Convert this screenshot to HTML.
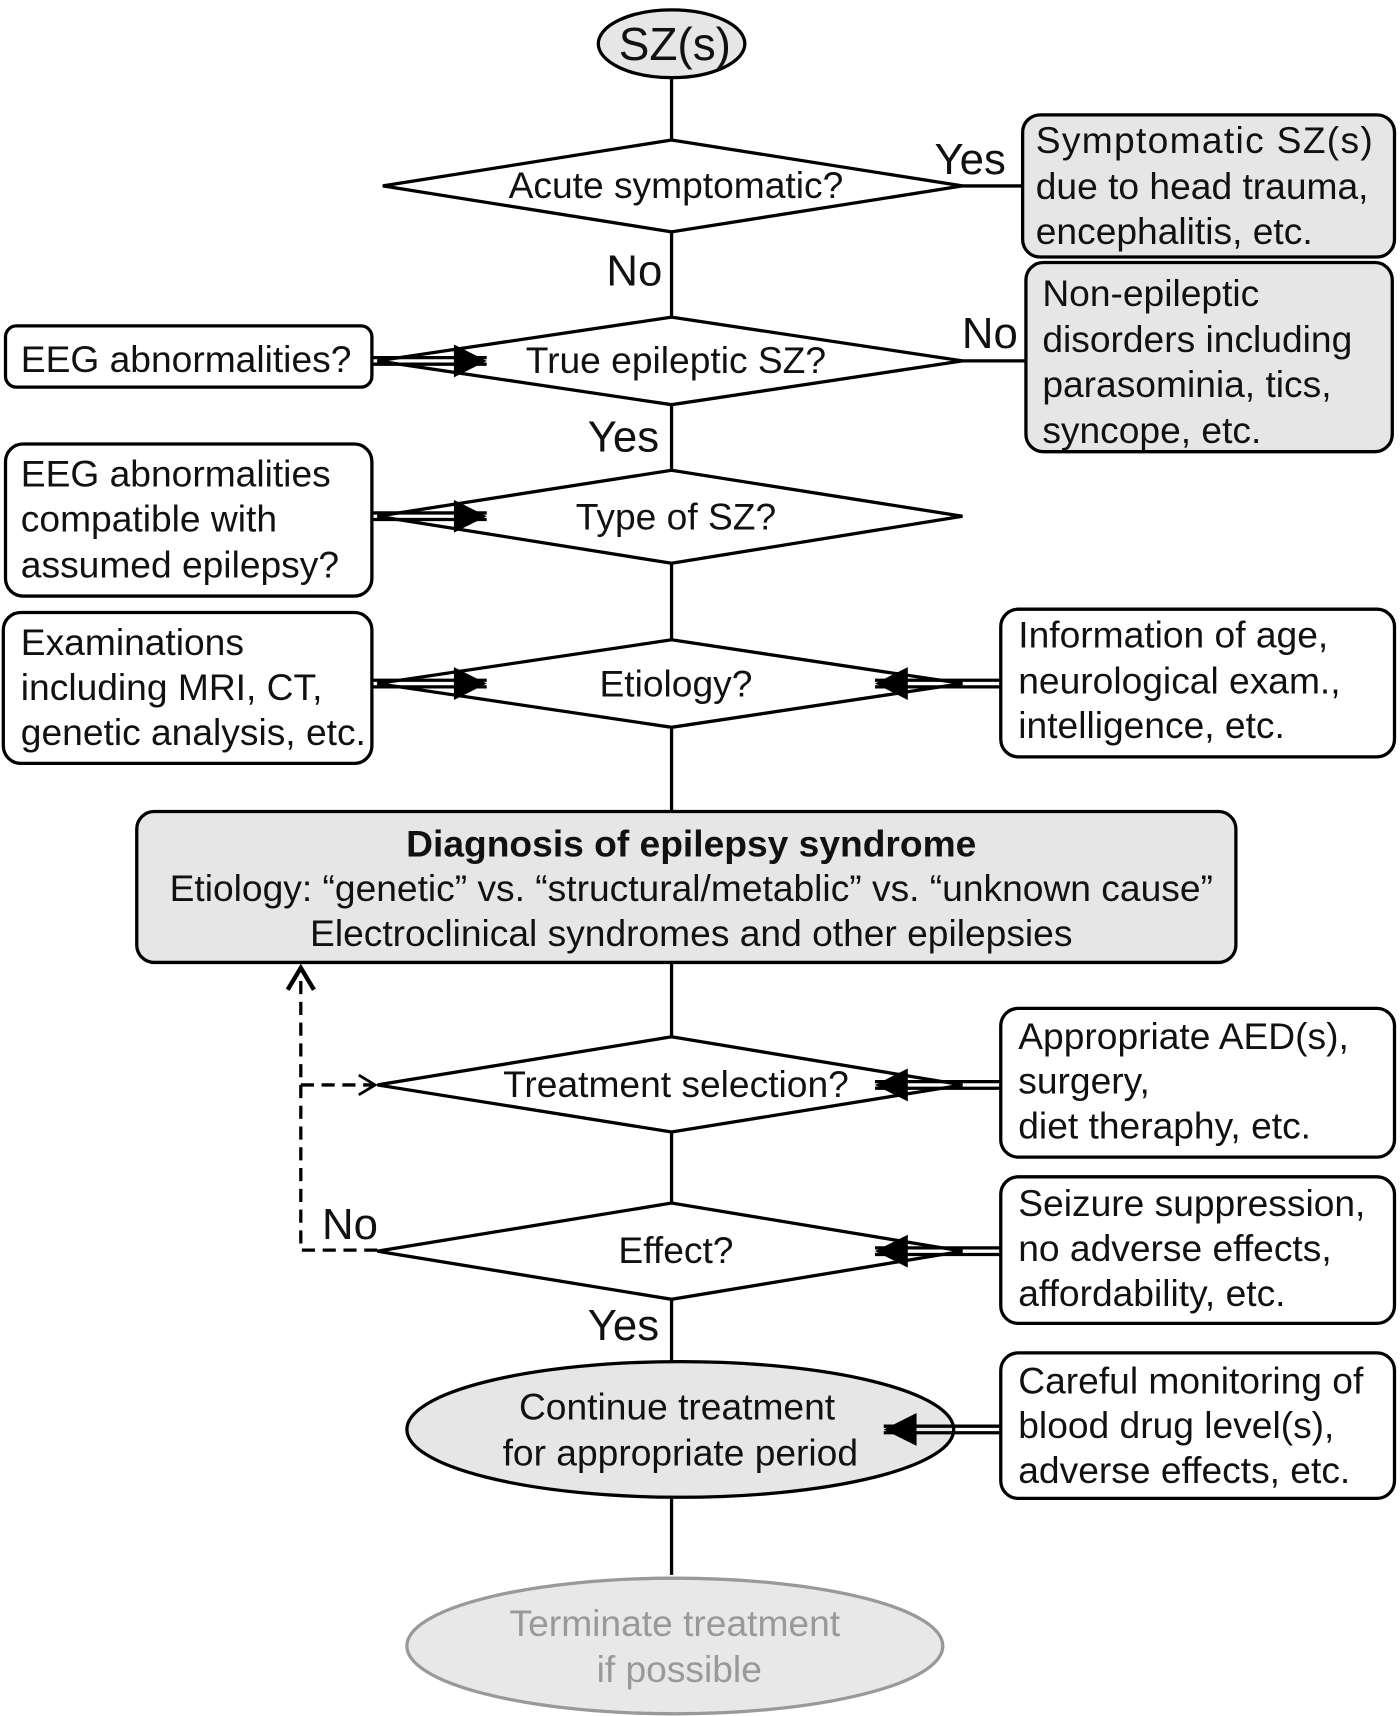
<!DOCTYPE html>
<html><head><meta charset="utf-8"><style>
html,body{margin:0;padding:0;background:#fff}
svg{display:block}
text{font-family:"Liberation Sans",sans-serif;font-size:34px;fill:#111}
text.lab{font-size:40px}
text.sz{font-size:42px}
</style></head><body>
<svg width="1400" height="1716" viewBox="0 0 1280 1569" xmlns="http://www.w3.org/2000/svg">
<defs>
<g id="arrL"><line x1="0" y1="-3" x2="-105" y2="-3" stroke="#000" stroke-width="3"/><line x1="0" y1="3" x2="-105" y2="3" stroke="#000" stroke-width="3"/><polygon points="0,0 -30,-15 -30,15" fill="#000"/></g>
<g id="arrR2"><line x1="0" y1="-3" x2="-115" y2="-3" stroke="#000" stroke-width="3"/><line x1="0" y1="3" x2="-115" y2="3" stroke="#000" stroke-width="3"/><polygon points="0,0 -30,-15 -30,15" fill="#000"/></g>
</defs>
<g stroke="#000" stroke-width="3" fill="none">
<line x1="614" y1="72" x2="614" y2="1440"/>
<line x1="880" y1="170" x2="935" y2="170"/>
<line x1="880" y1="330" x2="938" y2="330"/>
</g>
<g stroke="#000" stroke-width="3">
<ellipse cx="614" cy="40" rx="67" ry="31" fill="#e6e6e6"/>
<polygon points="350,170 614,128 880,170 614,212" fill="#fff"/>
<polygon points="345,330 614,290 880,330 614,370" fill="#fff"/>
<polygon points="345,472 614,430 880,472 614,515" fill="#fff"/>
<polygon points="345,625 614,585 880,625 614,665" fill="#fff"/>
<polygon points="345,992 614,948 880,992 614,1035" fill="#fff"/>
<polygon points="345,1144 614,1100 880,1144 614,1188" fill="#fff"/>
<rect x="935" y="105" width="340" height="130" rx="16" fill="#e6e6e6"/>
<rect x="938" y="240" width="335" height="173" rx="16" fill="#e6e6e6"/>
<rect x="5" y="298" width="335" height="56" rx="10" fill="#fff"/>
<rect x="5" y="406" width="335" height="139" rx="16" fill="#fff"/>
<rect x="3" y="560" width="337" height="138" rx="16" fill="#fff"/>
<rect x="915" y="557" width="360" height="135" rx="16" fill="#fff"/>
<rect x="125" y="742" width="1005" height="138" rx="16" fill="#e6e6e6"/>
<rect x="915" y="922" width="360" height="136" rx="16" fill="#fff"/>
<rect x="915" y="1076" width="360" height="134" rx="16" fill="#fff"/>
<rect x="915" y="1237" width="360" height="133" rx="16" fill="#fff"/>
<ellipse cx="622" cy="1307" rx="250" ry="62" fill="#e6e6e6"/>
</g>
<ellipse cx="617" cy="1505" rx="245" ry="62" fill="#e8e8e8" stroke="#999" stroke-width="3"/>
<use href="#arrL" transform="translate(445,330)"/>
<use href="#arrL" transform="translate(445,472)"/>
<use href="#arrL" transform="translate(445,625)"/>
<use href="#arrR2" transform="translate(800,625) scale(-1,1)"/>
<use href="#arrR2" transform="translate(800,992) scale(-1,1)"/>
<use href="#arrR2" transform="translate(800,1144) scale(-1,1)"/>
<g transform="translate(808,1307) scale(-1,1)"><line x1="0" y1="-3" x2="-107" y2="-3" stroke="#000" stroke-width="3"/><line x1="0" y1="3" x2="-107" y2="3" stroke="#000" stroke-width="3"/><polygon points="0,0 -30,-15 -30,15" fill="#000"/></g>
<g stroke="#000" stroke-width="3" fill="none" stroke-dasharray="12,7">
<polyline points="345,1143 275,1143 275,890"/>
<line x1="275" y1="992" x2="340" y2="992"/>
</g>
<polyline points="263,905 275,885 287,905" stroke="#000" stroke-width="4" fill="none"/>
<polyline points="328,983 343,992 328,1001" stroke="#000" stroke-width="2.5" fill="none"/>
<g text-anchor="middle">
<text class="sz" x="617" y="55">SZ(s)</text>
<text x="618" y="181">Acute symptomatic?</text>
<text x="618" y="341">True epileptic SZ?</text>
<text x="618" y="484">Type of SZ?</text>
<text x="618" y="637">Etiology?</text>
<text x="618" y="1003">Treatment selection?</text>
<text x="618" y="1155">Effect?</text>
<text class="lab" x="887" y="159">Yes</text>
<text class="lab" x="580" y="261">No</text>
<text class="lab" x="905" y="318">No</text>
<text class="lab" x="570" y="413">Yes</text>
<text class="lab" x="320" y="1133">No</text>
<text class="lab" x="570" y="1225">Yes</text>
<text x="632" y="783" font-weight="bold">Diagnosis of epilepsy syndrome</text>
<text x="632" y="824">Etiology: “genetic” vs. “structural/metablic” vs. “unknown cause”</text>
<text x="632" y="865">Electroclinical syndromes and other epilepsies</text>
<text x="619" y="1298">Continue treatment</text>
<text x="622" y="1340">for appropriate period</text>
<text x="617" y="1496" style="fill:#999">Terminate treatment</text>
<text x="621" y="1538" style="fill:#999">if possible</text>
</g>
<g>
<text x="947" y="140" style="letter-spacing:1.2px">Symptomatic SZ(s)</text>
<text x="947" y="182">due to head trauma,</text>
<text x="947" y="223">encephalitis, etc.</text>
<text x="953" y="280">Non-epileptic</text>
<text x="953" y="322">disorders including</text>
<text x="953" y="363">parasominia, tics,</text>
<text x="953" y="405">syncope, etc.</text>
<text x="19" y="340">EEG abnormalities?</text>
<text x="19" y="445">EEG abnormalities</text>
<text x="19" y="486">compatible with</text>
<text x="19" y="528">assumed epilepsy?</text>
<text x="19" y="599">Examinations</text>
<text x="19" y="640">including MRI, CT,</text>
<text x="19" y="681">genetic analysis, etc.</text>
<text x="931" y="592">Information of age,</text>
<text x="931" y="634">neurological exam.,</text>
<text x="931" y="675">intelligence, etc.</text>
<text x="931" y="959">Appropriate AED(s),</text>
<text x="931" y="1000">surgery,</text>
<text x="931" y="1041">diet theraphy, etc.</text>
<text x="931" y="1112">Seizure suppression,</text>
<text x="931" y="1153">no adverse effects,</text>
<text x="931" y="1194">affordability, etc.</text>
<text x="931" y="1274">Careful monitoring of</text>
<text x="931" y="1315">blood drug level(s),</text>
<text x="931" y="1356">adverse effects, etc.</text>
</g>
</svg>
</body></html>
